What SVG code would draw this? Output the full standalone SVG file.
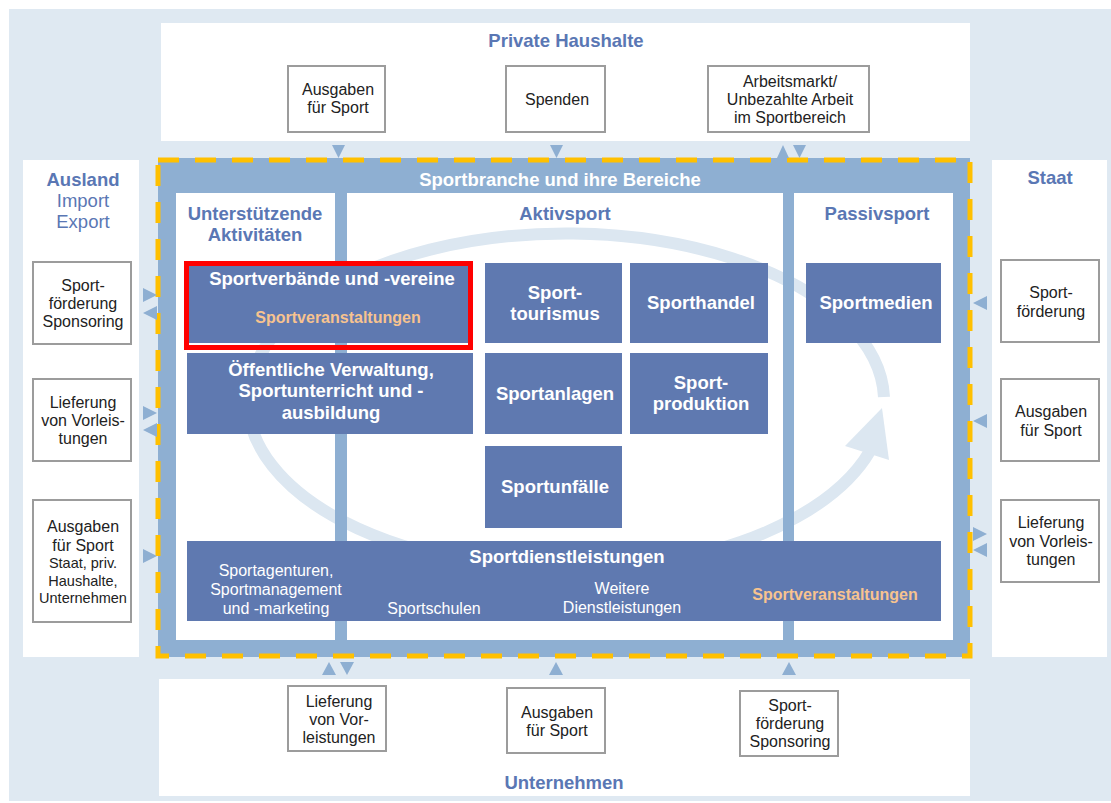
<svg xmlns="http://www.w3.org/2000/svg" width="1111" height="803" viewBox="0 0 1111 803">
<style>
text{font-family:"Liberation Sans",Arial,Helvetica,sans-serif;text-anchor:middle}
.hd{font-size:18.5px;font-weight:bold;fill:#5a77b4}
.hdr{font-size:18.5px;fill:#5a77b4}
.bx{font-size:18.5px;font-weight:bold;fill:#ffffff}
.or{font-size:16px;font-weight:bold;fill:#f7c38f}
.sub{font-size:16px;fill:#ffffff}
.sm{font-size:16px;fill:#222222}
.xs{font-size:14.5px;fill:#222222}
.panel{fill:#ffffff}
.node{fill:#5f79b0}
.ob{fill:#ffffff;stroke:#9c9c9c;stroke-width:2}
.tri{fill:#8eafd2}
.bar{fill:#8eafd2}
</style>
<rect x="9" y="9" width="1102" height="792" fill="#dfe9f2"/>
<g id="private-haushalte">
<rect class="panel" x="161" y="23" width="809" height="118"/>
<text class="hd" x="566" y="47">Private Haushalte</text>
</g>
<g id="ausland">
<rect class="panel" x="23" y="160" width="116" height="497"/>
<text class="hd" x="83" y="186">Ausland</text>
<text class="hdr" x="83" y="207">Import</text>
<text class="hdr" x="83" y="228">Export</text>
</g>
<g id="staat">
<rect class="panel" x="992" y="160" width="115" height="497"/>
<text class="hd" x="1050" y="184">Staat</text>
</g>
<g id="unternehmen">
<rect class="panel" x="159" y="679" width="811" height="117"/>
<text class="hd" x="564" y="789">Unternehmen</text>
</g>
<g id="sportbranche">
<rect x="158" y="158" width="812" height="499" fill="#8eafd2"/>
<text class="bx" x="560" y="186">Sportbranche und ihre Bereiche</text>
<rect class="panel" x="176" y="193" width="159" height="447"/>
<rect class="panel" x="347" y="193" width="436" height="447"/>
<rect class="panel" x="794" y="193" width="159" height="447"/>
</g>
<g id="kreislauf">
<path d="M884,397 A318,168 0 1 0 870,451" fill="none" stroke="#dce7f1" stroke-width="12"/>
<polygon points="882,408 845,446 889,460" fill="#dce7f1"/>
</g>
<rect class="bar" x="335" y="193" width="12" height="447"/>
<rect class="bar" x="783" y="193" width="11" height="447"/>
<g id="unterstuetzende">
<text class="hd" x="255" y="220">Unterstützende</text>
<text class="hd" x="255" y="241">Aktivitäten</text>
</g>
<g id="aktivsport"><text class="hd" x="565" y="220">Aktivsport</text></g>
<g id="passivsport"><text class="hd" x="877" y="220">Passivsport</text></g>
<g id="sportverbaende">
<rect class="node" x="189" y="265" width="279" height="78"/>
<text class="bx" x="332" y="285">Sportverbände und -vereine</text>
<text class="or" x="338" y="323">Sportveranstaltungen</text>
<rect x="186.5" y="263.5" width="284" height="84" fill="none" stroke="#ff0000" stroke-width="5"/>
</g>
<g id="oeffentliche">
<rect class="node" x="187" y="353" width="286" height="81"/>
<text class="bx" x="331" y="376">Öffentliche Verwaltung,</text>
<text class="bx" x="331" y="397">Sportunterricht und -</text>
<text class="bx" x="331" y="419">ausbildung</text>
</g>
<g id="sporttourismus">
<rect class="node" x="485" y="263" width="137" height="80"/>
<text class="bx" x="555" y="299">Sport-</text>
<text class="bx" x="555" y="320">tourismus</text>
</g>
<g id="sporthandel">
<rect class="node" x="630" y="263" width="138" height="80"/>
<text class="bx" x="701" y="309">Sporthandel</text>
</g>
<g id="sportmedien">
<rect class="node" x="806" y="263" width="135" height="80"/>
<text class="bx" x="876" y="309">Sportmedien</text>
</g>
<g id="sportanlagen">
<rect class="node" x="485" y="353" width="137" height="81"/>
<text class="bx" x="555" y="400">Sportanlagen</text>
</g>
<g id="sportproduktion">
<rect class="node" x="630" y="353" width="138" height="81"/>
<text class="bx" x="701" y="389">Sport-</text>
<text class="bx" x="701" y="410">produktion</text>
</g>
<g id="sportunfaelle">
<rect class="node" x="485" y="446" width="137" height="82"/>
<text class="bx" x="555" y="493">Sportunfälle</text>
</g>
<g id="sportdienstleistungen">
<rect class="node" x="187" y="541" width="754" height="80"/>
<text class="bx" x="567" y="563">Sportdienstleistungen</text>
<text class="sub" x="276" y="576">Sportagenturen,</text>
<text class="sub" x="276" y="595">Sportmanagement</text>
<text class="sub" x="276" y="614">und -marketing</text>
<text class="sub" x="434" y="614">Sportschulen</text>
<text class="sub" x="622" y="594">Weitere</text>
<text class="sub" x="622" y="613">Dienstleistungen</text>
<text class="or" x="835" y="600">Sportveranstaltungen</text>
</g>
<rect x="158" y="160" width="812" height="496" fill="none" stroke="#ffc000" stroke-width="5" stroke-dasharray="21 16"/>
<g id="ph-ausgaben">
<rect class="ob" x="288" y="66" width="97" height="66"/>
<text class="sm" x="338" y="95">Ausgaben</text>
<text class="sm" x="338" y="113">für Sport</text>
</g>
<g id="ph-spenden">
<rect class="ob" x="506" y="66" width="99" height="66"/>
<text class="sm" x="557" y="105">Spenden</text>
</g>
<g id="ph-arbeitsmarkt">
<rect class="ob" x="708" y="66" width="161" height="66"/>
<text class="sm" x="790" y="87">Arbeitsmarkt/</text>
<text class="sm" x="790" y="105">Unbezahlte Arbeit</text>
<text class="sm" x="790" y="123">im Sportbereich</text>
</g>
<g id="au-foerderung">
<rect class="ob" x="33" y="262" width="98" height="82"/>
<text class="sm" x="83" y="291">Sport-</text>
<text class="sm" x="83" y="309">förderung</text>
<text class="sm" x="83" y="327">Sponsoring</text>
</g>
<g id="au-lieferung">
<rect class="ob" x="33" y="379" width="98" height="82"/>
<text class="sm" x="83" y="408">Lieferung</text>
<text class="sm" x="83" y="426">von Vorleis-</text>
<text class="sm" x="83" y="444">tungen</text>
</g>
<g id="au-ausgaben">
<rect class="ob" x="33" y="500" width="98" height="122"/>
<text class="sm" x="83" y="532">Ausgaben</text>
<text class="sm" x="83" y="551">für Sport</text>
<text class="xs" x="83" y="568">Staat, priv.</text>
<text class="xs" x="83" y="586">Haushalte,</text>
<text class="xs" x="83" y="603">Unternehmen</text>
</g>
<g id="st-foerderung">
<rect class="ob" x="1001" y="260" width="98" height="82"/>
<text class="sm" x="1051" y="298">Sport-</text>
<text class="sm" x="1051" y="317">förderung</text>
</g>
<g id="st-ausgaben">
<rect class="ob" x="1001" y="379" width="98" height="82"/>
<text class="sm" x="1051" y="417">Ausgaben</text>
<text class="sm" x="1051" y="436">für Sport</text>
</g>
<g id="st-lieferung">
<rect class="ob" x="1001" y="500" width="98" height="82"/>
<text class="sm" x="1051" y="528">Lieferung</text>
<text class="sm" x="1051" y="547">von Vorleis-</text>
<text class="sm" x="1051" y="565">tungen</text>
</g>
<g id="un-lieferung">
<rect class="ob" x="288" y="686" width="98" height="65"/>
<text class="sm" x="339" y="707">Lieferung</text>
<text class="sm" x="339" y="725">von Vor-</text>
<text class="sm" x="339" y="743">leistungen</text>
</g>
<g id="un-ausgaben">
<rect class="ob" x="507" y="688" width="98" height="65"/>
<text class="sm" x="557" y="718">Ausgaben</text>
<text class="sm" x="557" y="736">für Sport</text>
</g>
<g id="un-foerderung">
<rect class="ob" x="740" y="691" width="98" height="65"/>
<text class="sm" x="790" y="711">Sport-</text>
<text class="sm" x="790" y="729">förderung</text>
<text class="sm" x="790" y="747">Sponsoring</text>
</g>
<g id="connectors">
<polygon class="tri" points="332,145 345,145 338.5,158"/>
<polygon class="tri" points="550,145 563,145 556.5,158"/>
<polygon class="tri" points="777,158 789,158 783,145"/>
<polygon class="tri" points="793,145 806,145 799.5,158"/>
<polygon class="tri" points="143,288 143,302 157,295"/>
<polygon class="tri" points="157,306 157,320 143,313"/>
<polygon class="tri" points="143,406 143,420 157,413"/>
<polygon class="tri" points="157,423 157,437 143,430"/>
<polygon class="tri" points="143,549 143,563 157,556"/>
<polygon class="tri" points="987,296 987,310 973,303"/>
<polygon class="tri" points="987,414 987,428 973,421"/>
<polygon class="tri" points="973,527 973,541 987,534"/>
<polygon class="tri" points="987,543 987,557 973,550"/>
<polygon class="tri" points="322,675 336,675 329,662"/>
<polygon class="tri" points="340,662 354,662 347,675"/>
<polygon class="tri" points="549,675 563,675 556,662"/>
<polygon class="tri" points="782,675 796,675 789,662"/>
</g>
</svg>
